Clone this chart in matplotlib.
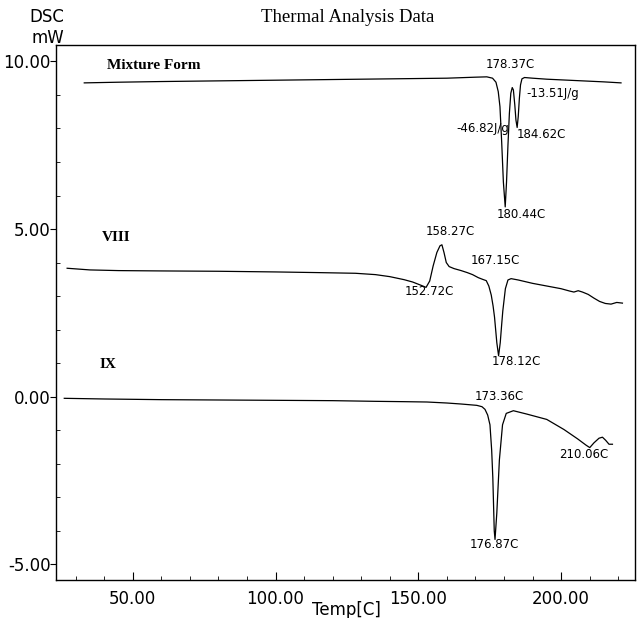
import matplotlib
matplotlib.use("Agg")
import matplotlib.pyplot as plt
from matplotlib.ticker import MultipleLocator, FormatStrFormatter

# DSC traces (temperature in C, heat flow in mW)
mix_temp = [33, 45, 60, 80, 100, 120, 140, 160, 170, 174, 176, 177.2, 178.0,
            178.6, 179.2, 179.8, 180.44, 180.9, 181.4, 181.9, 182.4, 182.9,
            183.3, 183.8, 184.2, 184.62, 185.0, 185.4, 185.8, 186.3, 187.2,
            190, 195, 200, 205, 210, 215, 221]
mix_dsc = [9.36, 9.38, 9.40, 9.42, 9.44, 9.46, 9.48, 9.50, 9.53, 9.54, 9.50,
           9.38, 9.10, 8.65, 7.60, 6.40, 5.66, 6.40, 7.50, 8.45, 9.05, 9.22,
           9.15, 8.70, 8.25, 8.03, 8.35, 8.90, 9.30, 9.48, 9.52, 9.50, 9.47,
           9.45, 9.43, 9.41, 9.39, 9.36]

viii_temp = [27, 35, 45, 60, 80, 100, 115, 128, 135, 140, 145, 148, 151,
             152.72, 154.0, 155.2, 156.5, 157.6, 158.27, 159.0, 159.8, 160.8,
             162.5, 165, 167.15, 169, 171, 172.5, 173.8, 174.7, 175.55, 176.2,
             176.7, 177.5, 178.12, 178.7, 179.2, 179.6, 180.5, 181.4, 182.5,
             185, 190, 195, 200, 203, 204.5, 206, 207.5, 209.5, 211.5, 213.5,
             215.5, 217.5, 219.5, 221.5]
viii_dsc = [3.83, 3.78, 3.76, 3.75, 3.74, 3.72, 3.70, 3.68, 3.64, 3.58, 3.49,
            3.42, 3.32, 3.26, 3.45, 3.90, 4.30, 4.50, 4.53, 4.30, 4.00, 3.88,
            3.82, 3.76, 3.70, 3.64, 3.55, 3.50, 3.46, 3.30, 3.03, 2.70, 2.37,
            1.61, 1.22, 1.61, 2.15, 2.56, 3.22, 3.48, 3.52, 3.48, 3.38, 3.30,
            3.22, 3.15, 3.12, 3.16, 3.12, 3.05, 2.94, 2.84, 2.78, 2.76, 2.81,
            2.79]

ix_temp = [26, 40, 60, 80, 100, 120, 135, 145, 153, 160, 165, 170.5, 172.3,
           173.36, 174.3, 175.1, 175.7, 176.1, 176.6, 176.87, 177.5, 178.4,
           179.5, 180.8, 183.3, 188, 195, 201, 205.8, 208.8, 210.06, 211.5,
           213.3, 214.5, 215.6, 216.8, 218]
ix_dsc = [-0.05, -0.07, -0.09, -0.10, -0.11, -0.12, -0.14, -0.15, -0.16,
          -0.19, -0.22, -0.26, -0.30, -0.38, -0.55, -0.84, -1.60, -2.42,
          -4.00, -4.26, -3.47, -1.89, -0.84, -0.50, -0.42, -0.52, -0.68,
          -0.98, -1.26, -1.45, -1.52, -1.38, -1.24, -1.21, -1.30, -1.42,
          -1.42]

# (text, x, y, horizontal alignment)
peak_labels = [
    ("178.37C", 182.3, 9.90, "center"),
    ("-13.51J/g", 187.9, 9.03, "left"),
    ("-46.82J/g", 181.8, 8.00, "right"),
    ("184.62C", 184.4, 7.83, "left"),
    ("180.44C", 177.4, 5.44, "left"),
    ("158.27C", 161.3, 4.94, "center"),
    ("167.15C", 177.0, 4.05, "center"),
    ("152.72C", 153.8, 3.15, "center"),
    ("178.12C", 184.5, 1.04, "center"),
    ("173.36C", 178.2, 0.00, "center"),
    ("210.06C", 208.1, -1.73, "center"),
    ("176.87C", 176.75, -4.42, "center"),
]
curve_names = [("Mixture Form", 41.0, 9.87), ("VIII", 39.3, 4.74), ("IX", 38.2, 0.95)]

x_major = [50, 100, 150, 200]
y_major = [-5, 0, 5, 10]

W, H = 642, 618
fig = plt.figure(figsize=(W / 100, H / 100), dpi=100)
ax = fig.add_axes([56 / W, 1 - 580 / H, (635 - 56) / W, (580 - 45) / H])

for t, d in [(mix_temp, mix_dsc), (viii_temp, viii_dsc), (ix_temp, ix_dsc)]:
    ax.plot(t, d, color="black", lw=0.9)

for txt, x, y, ha in peak_labels:
    ax.text(x, y, txt, ha=ha, va="center", fontsize=8.5, color="black")

for txt, x, y in curve_names:
    ax.text(x, y, txt, ha="left", va="center", fontsize=11, fontweight="bold",
            family="Liberation Serif")

ax.set_xlim(23.1, 225.9)
ax.set_ylim(-5.47, 10.49)
ax.set_xticks(x_major)
ax.set_yticks(y_major)
ax.xaxis.set_minor_locator(MultipleLocator(10))
ax.yaxis.set_minor_locator(MultipleLocator(1))
ax.xaxis.set_major_formatter(FormatStrFormatter("%.2f"))
ax.yaxis.set_major_formatter(FormatStrFormatter("%.2f"))
ax.tick_params(axis="x", which="major", direction="in", length=6, pad=7, labelsize=12)
ax.tick_params(axis="x", which="minor", direction="in", length=3)
ax.tick_params(axis="y", which="major", direction="out", length=4, pad=0, labelsize=12)
ax.tick_params(axis="y", which="minor", direction="in", length=3)
for s in ax.spines.values():
    s.set_linewidth(1.0)

fig.text(346 / W, 1 - 610 / H, "Temp[C]", ha="center", va="center", fontsize=12)
fig.text(64 / W, 1 - 17 / H, "DSC", ha="right", va="center", fontsize=12)
fig.text(64 / W, 1 - 38 / H, "mW", ha="right", va="center", fontsize=12)
fig.text(348 / W, 1 - 18 / H, "Thermal Analysis Data", ha="center", va="center",
         fontsize=13.5, family="Liberation Serif")

fig.savefig("out.png", dpi=100)
